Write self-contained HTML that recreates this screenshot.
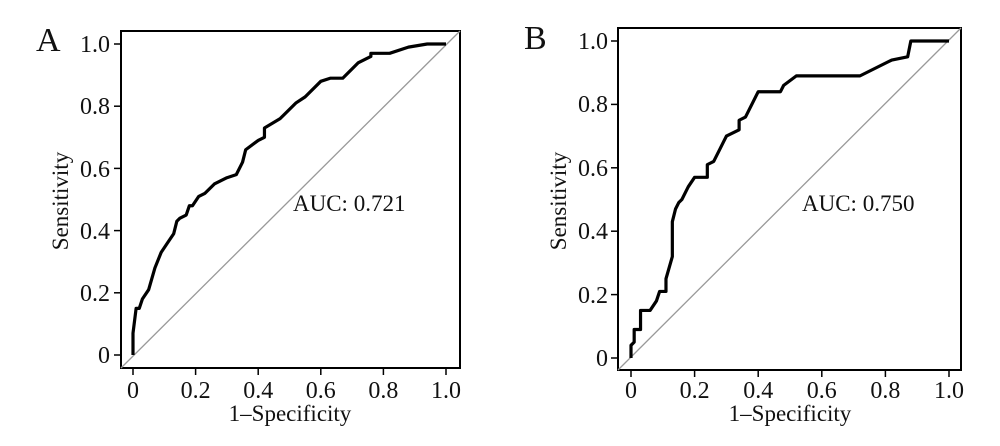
<!DOCTYPE html>
<html><head><meta charset="utf-8"><style>
html,body{margin:0;padding:0;background:#fff;}
svg{display:block;}
text{font-family:"Liberation Serif",serif;fill:#111;}
</style></head><body>
<svg width="1000" height="446" viewBox="0 0 1000 446" xmlns="http://www.w3.org/2000/svg">
<!-- Panel A -->
<g>
<text x="36" y="51" font-size="34">A</text>
<rect x="121" y="31" width="339" height="337" fill="none" stroke="#000" stroke-width="2"/>
<line x1="121" y1="368" x2="460" y2="31" stroke="#999" stroke-width="1.3"/>
<g stroke="#000" stroke-width="1.5">
<line x1="133" y1="368" x2="133" y2="375"/><line x1="195.6" y1="368" x2="195.6" y2="375"/><line x1="258.2" y1="368" x2="258.2" y2="375"/><line x1="320.8" y1="368" x2="320.8" y2="375"/><line x1="383.4" y1="368" x2="383.4" y2="375"/><line x1="446" y1="368" x2="446" y2="375"/>
<line x1="114" y1="355" x2="121" y2="355"/><line x1="114" y1="292.8" x2="121" y2="292.8"/><line x1="114" y1="230.6" x2="121" y2="230.6"/><line x1="114" y1="168.4" x2="121" y2="168.4"/><line x1="114" y1="106.2" x2="121" y2="106.2"/><line x1="114" y1="44" x2="121" y2="44"/>
</g>
<g font-size="24" text-anchor="middle">
<text x="133" y="398">0</text><text x="195.6" y="398">0.2</text><text x="258.2" y="398">0.4</text><text x="320.8" y="398">0.6</text><text x="383.4" y="398">0.8</text><text x="446" y="398">1.0</text>
</g>
<g font-size="24" text-anchor="end">
<text x="110" y="363">0</text><text x="110" y="301">0.2</text><text x="110" y="239">0.4</text><text x="110" y="177">0.6</text><text x="110" y="114">0.8</text><text x="110" y="52">1.0</text>
</g>
<text x="290" y="421" font-size="23" text-anchor="middle">1–Specificity</text>
<text transform="translate(68,201) rotate(-90)" font-size="23" text-anchor="middle">Sensitivity</text>
<text x="293" y="211" font-size="23">AUC: 0.721</text>
<g transform="translate(133,355) scale(313,-311)">
<polyline fill="none" stroke="#000" stroke-width="3.2" vector-effect="non-scaling-stroke" stroke-linejoin="round" points="0,0 0,0.07 0.01,0.15 0.02,0.15 0.03,0.18 0.05,0.21 0.07,0.28 0.09,0.33 0.11,0.36 0.13,0.39 0.14,0.43 0.15,0.44 0.17,0.45 0.18,0.48 0.19,0.48 0.21,0.51 0.23,0.52 0.26,0.55 0.28,0.56 0.30,0.57 0.33,0.58 0.35,0.62 0.36,0.66 0.40,0.69 0.42,0.70 0.42,0.73 0.47,0.76 0.52,0.81 0.55,0.83 0.60,0.88 0.63,0.89 0.67,0.89 0.72,0.94 0.76,0.96 0.76,0.97 0.82,0.97 0.88,0.99 0.94,1.0 1,1"/>
</g>
</g>
<!-- Panel B -->
<g>
<text x="524" y="49" font-size="34">B</text>
<rect x="618" y="28" width="343" height="342" fill="none" stroke="#000" stroke-width="2"/>
<line x1="618" y1="370" x2="961" y2="28" stroke="#999" stroke-width="1.3"/>
<g stroke="#000" stroke-width="1.5">
<line x1="631" y1="370" x2="631" y2="377"/><line x1="694.6" y1="370" x2="694.6" y2="377"/><line x1="758.2" y1="370" x2="758.2" y2="377"/><line x1="821.8" y1="370" x2="821.8" y2="377"/><line x1="885.4" y1="370" x2="885.4" y2="377"/><line x1="949" y1="370" x2="949" y2="377"/>
<line x1="611" y1="358" x2="618" y2="358"/><line x1="611" y1="294.6" x2="618" y2="294.6"/><line x1="611" y1="231.2" x2="618" y2="231.2"/><line x1="611" y1="167.8" x2="618" y2="167.8"/><line x1="611" y1="104.4" x2="618" y2="104.4"/><line x1="611" y1="41" x2="618" y2="41"/>
</g>
<g font-size="24" text-anchor="middle">
<text x="631" y="398">0</text><text x="694.6" y="398">0.2</text><text x="758.2" y="398">0.4</text><text x="821.8" y="398">0.6</text><text x="885.4" y="398">0.8</text><text x="949" y="398">1.0</text>
</g>
<g font-size="24" text-anchor="end">
<text x="608" y="366">0</text><text x="608" y="303">0.2</text><text x="608" y="239">0.4</text><text x="608" y="176">0.6</text><text x="608" y="112">0.8</text><text x="608" y="49">1.0</text>
</g>
<text x="790" y="421" font-size="23" text-anchor="middle">1–Specificity</text>
<text transform="translate(566,201) rotate(-90)" font-size="23" text-anchor="middle">Sensitivity</text>
<text x="802" y="211" font-size="23">AUC: 0.750</text>
<g transform="translate(631,358) scale(318,-317)">
<polyline fill="none" stroke="#000" stroke-width="3.2" vector-effect="non-scaling-stroke" stroke-linejoin="round" points="0,0 0,0.04 0.01,0.05 0.01,0.09 0.03,0.09 0.03,0.15 0.06,0.15 0.08,0.18 0.09,0.21 0.11,0.21 0.11,0.25 0.13,0.32 0.13,0.43 0.14,0.47 0.15,0.49 0.16,0.50 0.18,0.54 0.20,0.57 0.24,0.57 0.24,0.61 0.26,0.62 0.28,0.66 0.29,0.68 0.30,0.70 0.34,0.72 0.34,0.75 0.36,0.76 0.40,0.84 0.47,0.84 0.48,0.86 0.52,0.89 0.72,0.89 0.82,0.94 0.87,0.95 0.88,1.0 1,1"/>
</g>
</g>
</svg>
</body></html>
